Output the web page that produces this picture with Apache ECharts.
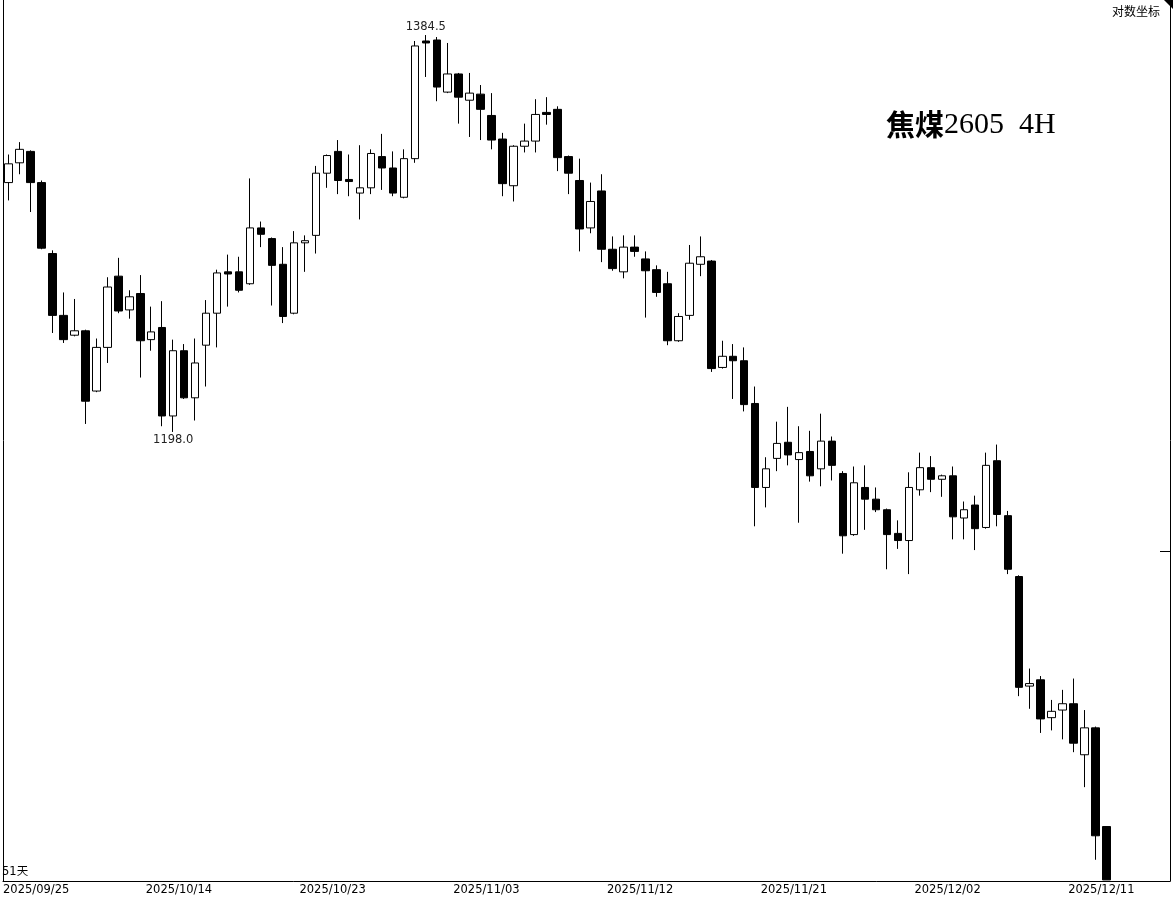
<!DOCTYPE html>
<html>
<head>
<meta charset="utf-8">
<script src="https://cdn.jsdelivr.net/npm/echarts@6/dist/echarts.min.js"></script>
<style>
html,body{margin:0;padding:0;background:#fff;}
#chart{width:1173px;height:899px;}
</style>
</head>
<body>
<div id="chart"></div>
<script>
// 51 trading days, two 4H bars per day (first bar of 09/25 is off screen)
const tradingDays = [
  '2025/09/25','2025/09/26','2025/09/29','2025/09/30',
  '2025/10/09','2025/10/10','2025/10/13','2025/10/14','2025/10/15','2025/10/16','2025/10/17',
  '2025/10/20','2025/10/21','2025/10/22','2025/10/23','2025/10/24','2025/10/27','2025/10/28',
  '2025/10/29','2025/10/30','2025/10/31',
  '2025/11/03','2025/11/04','2025/11/05','2025/11/06','2025/11/07','2025/11/10','2025/11/11',
  '2025/11/12','2025/11/13','2025/11/14','2025/11/17','2025/11/18','2025/11/19','2025/11/20',
  '2025/11/21','2025/11/24','2025/11/25','2025/11/26','2025/11/27','2025/11/28',
  '2025/12/01','2025/12/02','2025/12/03','2025/12/04','2025/12/05','2025/12/08','2025/12/09',
  '2025/12/10','2025/12/11','2025/12/12'
];
const tickLabels = ['2025/09/25','2025/10/14','2025/10/23','2025/11/03','2025/11/12','2025/11/21','2025/12/02','2025/12/11'];

const opens = [
  1312,1321.5,1327,1312,1278.5,1250,1241,1243,1216,1235.5,
  1268,1252.5,1260,1239,1244.5,1205,1234,1213,1236.5,1251,
  1270,1270,1264.5,1290.5,1285.5,1273.5,1251,1283.5,1287,1316.5,
  1327,1313.5,1307,1309.5,1324.5,1319,1305,1323.5,1381.5,1382,
  1356,1365,1352,1355,1344.5,1333,1310.5,1329.5,1332,1346,
  1347.5,1324.5,1313,1290.5,1308,1280.5,1270,1281.5,1276,1271,
  1264.5,1238.5,1250,1273.5,1275,1226.5,1231.5,1229.5,1210.5,1174,
  1186.5,1193.5,1186,1189.5,1182,1194,1180,1154,1174,1169,
  1164.5,1154.5,1151.5,1173,1182.5,1177.5,1179,1161,1166.5,1157,
  1185.5,1162,1136.5,1092,1094.5,1079.5,1082.5,1085,1065,1075.5,
  1037.5
];
const closes = [
  1321,1328,1312,1281,1250,1239,1243,1211.5,1235.5,1263,
  1252,1258.5,1238.5,1242.5,1205,1234,1213,1228.5,1251,1269.5,
  1269,1261.5,1290.5,1287.5,1273,1249.5,1283.5,1284.5,1316.5,1325,
  1313,1312.5,1309.5,1326,1319,1307,1323.5,1379,1380.5,1358.5,
  1365,1353.5,1355.5,1347.5,1332.5,1311.5,1329.5,1332,1345,1345,
  1324,1316.5,1290,1303,1280.5,1271.5,1281.5,1279.5,1270.5,1260.5,
  1238.5,1249.5,1274,1277,1226,1231.5,1229.5,1210,1174,1182,
  1193,1188,1189,1179,1194,1183.5,1153.5,1176,1169,1164.5,
  1154,1151.5,1174,1182.5,1177.5,1179,1161.5,1164.5,1156.5,1183.5,
  1162.5,1139.5,1091.5,1093,1079,1082,1085,1069.5,1075.5,1034,
  1017.5
];
const lows = [
  1303.5,1316,1298,1280.5,1242,1237.5,1240.5,1201.5,1215.5,1228.5,
  1251,1248.5,1222,1234,1200.5,1198,1212.5,1203,1218,1235.5,
  1254,1260.5,1264,1281.5,1254.5,1246.5,1250.5,1270,1278.5,1309.5,
  1306.5,1305.5,1294.5,1306.5,1308.5,1305.5,1304.5,1321.5,1363.5,1351.5,
  1355.5,1340.5,1334,1332.5,1328,1305.5,1303,1326.5,1326.5,1340,
  1317.5,1306.5,1279.5,1288,1274.5,1270.5,1267,1277,1249,1258.5,
  1236.5,1238,1248,1268,1224.5,1226,1212.5,1207,1157.5,1165.5,
  1181,1183.5,1159,1176.5,1174.5,1177,1146,1153.5,1156,1163.5,
  1139.5,1148,1137.5,1170.5,1172,1170,1152,1152,1147.5,1156.5,
  1157.5,1137.5,1088,1083,1073.5,1074.5,1071,1066,1052.5,1025,
  1017.5
];
const highs = [
  1325.5,1331.5,1327.5,1313,1280,1260.5,1257.5,1243.5,1239.5,1267.5,
  1276.5,1261.5,1268.5,1254,1256.5,1239,1237,1239.5,1257,1271,
  1278,1277,1314,1293.5,1286,1281.5,1289,1287,1320,1325.5,
  1332.5,1325.5,1330,1328,1335.5,1327,1328,1381.5,1384.5,1383.5,
  1380.5,1365.5,1365.5,1359.5,1355.5,1336,1330,1340.5,1352.5,1353.5,
  1349,1325,1323.5,1312,1316,1286.5,1287,1287,1279.5,1273,
  1270,1251,1282.5,1286.5,1275.5,1238.5,1237,1235.5,1218,1187,
  1202.5,1209,1200.5,1198.5,1206,1196,1181,1183,1183.5,1174,
  1165,1160,1180.5,1189,1187.5,1179.5,1183,1168,1170.5,1189,
  1192.5,1164,1137,1099,1096,1086.5,1090.5,1095,1082.5,1076,
  1037.5
];
const markHighIndex = 38;   // 1384.5
const markLowIndex = 15;    // 1198.0
const dayCountText = '51天';
const titleMain = '焦煤';
const titleSub = '2605  4H';
const scaleText = '对数坐标';

// build bar names (two bars per trading day, skip first bar of first day)
const barNames = [];
tradingDays.forEach((d, i) => {
  if (i > 0) barNames.push(d + ' A');
  barNames.push(d + ' B');
});
const barDates = barNames.map(s => s.slice(0, 10));
const emptySlots = 5;
const categories = barNames.concat(Array.from({length: emptySlots}, (_, i) => 'empty' + i));
// label axis: one entry per band edge
const labelAxisData = [];
for (let j = 0; j <= categories.length; j++) labelAxisData.push('');
tickLabels.forEach(t => {
  const idx = barDates.indexOf(t);
  if (idx >= 0) labelAxisData[idx] = t;
});

const candleData = opens.map((o, i) => [o, closes[i], lows[i], highs[i]]);

const yMin = 1017.1, yMax = 1402.3;
const labelFont = 'DejaVu Sans';

const chart = echarts.init(document.getElementById('chart'), null, {renderer: 'canvas'});
const option = {
  animation: false,
  backgroundColor: '#fff',
  grid: {left: 1, right: 6, top: 0, bottom: 18, containLabel: false},
  xAxis: [
    {
      type: 'category', data: categories, boundaryGap: true, position: 'bottom',
      axisLine: {show: true, onZero: false, lineStyle: {color: '#000', width: 1}},
      axisTick: {show: false}, axisLabel: {show: false}, splitLine: {show: false}
    },
    {
      type: 'category', data: labelAxisData, boundaryGap: false, position: 'bottom',
      axisLine: {show: false, onZero: false}, axisTick: {show: false}, splitLine: {show: false},
      axisLabel: {show: true, interval: 0, align: 'left', margin: 3, color: '#000',
        fontFamily: labelFont, fontSize: 11.5}
    }
  ],
  yAxis: [
    {
      type: 'log', min: yMin, max: yMax, position: 'left',
      axisLine: {show: true, lineStyle: {color: '#000', width: 1}},
      axisTick: {show: false}, axisLabel: {show: false}, splitLine: {show: false}
    },
    {
      type: 'value', min: 0, max: 1, position: 'right', offset: 3,
      axisLine: {show: true, lineStyle: {color: '#000', width: 1}},
      axisTick: {show: false}, axisLabel: {show: false}, splitLine: {show: false}
    }
  ],
  series: [{
    type: 'candlestick',
    xAxisIndex: 0, yAxisIndex: 0,
    data: candleData,
    barWidth: 8,
    itemStyle: {color: '#fff', color0: '#000', borderColor: '#000', borderColor0: '#000', borderWidth: 1},
    emphasis: {disabled: true},
    markPoint: {
      symbol: 'rect', symbolSize: 1,
      itemStyle: {color: 'rgba(0,0,0,0)'},
      label: {show: true, color: '#222', fontFamily: labelFont, fontSize: 11.5,
        formatter: p => Number(p.value).toFixed(1)},
      data: [
        {coord: [markHighIndex, highs[markHighIndex]], value: highs[markHighIndex], label: {position: 'top', distance: 2}},
        {coord: [markLowIndex, lows[markLowIndex]], value: lows[markLowIndex], label: {position: 'bottom', distance: 2}}
      ]
    }
  }],
  graphic: [
    {type: 'text', x: 886, y: 125, style: {
      text: '{cn|' + titleMain + '}{en|' + titleSub + '}',
      verticalAlign: 'middle', align: 'left',
      rich: {
        cn: {fontFamily: 'Noto Sans CJK SC', fontSize: 29, fontWeight: 'bold', fill: '#000'},
        en: {fontFamily: 'Liberation Serif', fontSize: 30, fill: '#000'}
      }
    }},
    {type: 'text', x: 1160, y: 11, style: {text: scaleText, fontFamily: 'Noto Sans CJK SC', fontSize: 12,
      fill: '#000', align: 'right', verticalAlign: 'middle'}},
    {type: 'text', x: 2, y: 872, style: {text: dayCountText, fontFamily: 'DejaVu Sans, Noto Sans CJK SC', fontSize: 11.5,
      fill: '#000', align: 'left', verticalAlign: 'middle'}},
    {type: 'polygon', shape: {points: [[1164, 0], [1173, 0], [1173, 9]]}, style: {fill: '#000'}},
    {type: 'line', shape: {x1: 1160, y1: 551.5, x2: 1170, y2: 551.5}, style: {stroke: '#000', lineWidth: 1}},
    {type: 'line', shape: {x1: 1166, y1: 881.5, x2: 1170.5, y2: 881.5}, style: {stroke: '#000', lineWidth: 1}}
  ]
};
chart.setOption(option);
</script>
</body>
</html>
